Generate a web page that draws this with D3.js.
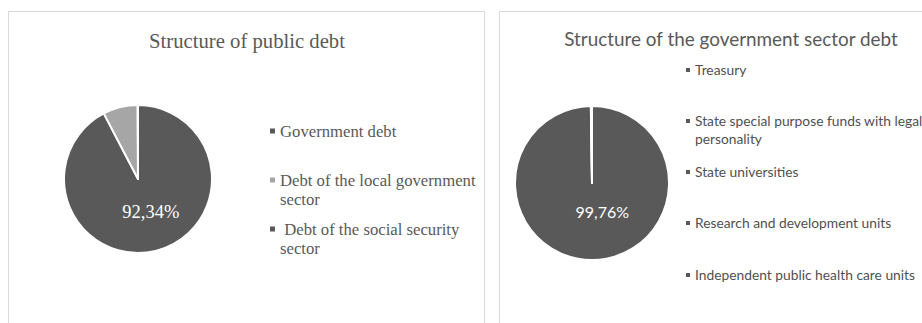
<!DOCTYPE html>
<html>
<head>
<meta charset="utf-8">
<script src="https://cdn.jsdelivr.net/npm/d3@7"></script>
<style>
  html, body { margin: 0; padding: 0; background: #fff; }
  svg { display: block; }
</style>
</head>
<body>
<svg id="chart" width="922" height="323"></svg>
<script>
// Structure of public debt (share of total, %)
const publicCategories = [
  "Government debt",
  "Debt of the local government sector",
  " Debt of the social security sector"
];
const publicValues = [92.34, 7.59, 0.07];
const publicLegendLines = [
  ["Government debt"],
  ["Debt of the local government", "sector"],
  [" Debt of the social security", "sector"]
];
const publicColors = ["#595959", "#a6a6a6", "#595959"];

// Structure of the government sector debt (share, %)
const govCategories = [
  "Treasury",
  "State special purpose funds with legal personality",
  "State universities",
  "Research and development units",
  "Independent public health care units"
];
const govValues = [99.76, 0.12, 0.05, 0.03, 0.04];
const govLegendLines = [
  ["Treasury"],
  ["State special purpose funds with legal", "personality"],
  ["State universities"],
  ["Research and development units"],
  ["Independent public health care units"]
];
const govColors = ["#595959", "#595959", "#595959", "#595959", "#595959"];

const svg = d3.select("#chart");

// Panel frames
svg.append("rect").attr("x", 8.5).attr("y", 11.5).attr("width", 476).attr("height", 330)
  .attr("fill", "#fff").attr("stroke", "#d9d9d9");
svg.append("rect").attr("x", 499.5).attr("y", 11.5).attr("width", 440).attr("height", 330)
  .attr("fill", "#fff").attr("stroke", "#d9d9d9");

function drawPie(opt) {
  const g = svg.append("g").attr("transform", `translate(${opt.cx},${opt.cy})`);
  const pie = d3.pie().sort(null).value(d => d)(opt.values);
  const arc = d3.arc().innerRadius(0).outerRadius(opt.r);
  g.selectAll("path").data(pie).join("path")
    .attr("d", arc)
    .attr("fill", (d, i) => opt.colors[i])
    .attr("stroke", "#fff")
    .attr("stroke-width", 2)
    .attr("stroke-linejoin", "round");

  // value label on the largest slice
  const labelArc = d3.arc().innerRadius(opt.labelR).outerRadius(opt.labelR);
  const c = labelArc.centroid(pie[0]);
  g.append("text")
    .attr("x", c[0] + opt.labelDx).attr("y", c[1])
    .attr("dy", "0.35em")
    .attr("text-anchor", "middle")
    .attr("fill", "#fff")
    .style("font-family", opt.font)
    .style("font-size", opt.labelSize + "px")
    .text(d3.format(".2f")(opt.values[0]).replace(".", ",") + "%");

  // title
  svg.append("text")
    .attr("x", opt.titleX).attr("y", opt.titleY)
    .attr("dy", "0.35em")
    .attr("text-anchor", "middle")
    .attr("fill", "#595959")
    .style("font-family", opt.font)
    .style("font-size", opt.titleSize + "px")
    .text(opt.title);

  // legend
  const lg = svg.append("g");
  opt.legendLines.forEach((lines, i) => {
    const y = opt.legendY[i];
    lg.append("rect")
      .attr("x", opt.legendX).attr("y", y - opt.markerSize / 2)
      .attr("width", opt.markerSize).attr("height", opt.markerSize)
      .attr("fill", opt.colors[i]);
    const t = lg.append("text")
      .attr("x", opt.legendX + opt.textGap).attr("y", y)
      .attr("fill", opt.legendColor)
      .style("font-family", opt.font)
      .style("font-size", opt.legendSize + "px")
      .style("white-space", "pre");
    lines.forEach((ln, j) => {
      t.append("tspan")
        .attr("x", opt.legendX + opt.textGap)
        .attr("y", y + j * opt.lineGap)
        .attr("dy", "0.35em")
        .text(ln);
    });
  });
}

drawPie({
  cx: 138, cy: 179, r: 74,
  values: publicValues, colors: publicColors,
  labelR: 33, labelDx: 5, labelSize: 18.5,
  font: "'Liberation Serif', 'DejaVu Serif', serif",
  title: "Structure of public debt", titleX: 247, titleY: 41, titleSize: 20.7,
  legendLines: publicLegendLines, legendX: 270, legendY: [131, 180, 229],
  markerSize: 5, textGap: 10, legendSize: 16.7, lineGap: 19, legendColor: "#595959"
});

drawPie({
  cx: 592, cy: 183, r: 77,
  values: govValues, colors: govColors,
  labelR: 29, labelDx: 10, labelSize: 16,
  font: "Lato, 'Open Sans', sans-serif",
  title: "Structure of the government sector debt", titleX: 731, titleY: 39, titleSize: 18.9,
  legendLines: govLegendLines, legendX: 686, legendY: [70, 121, 172, 223, 275],
  markerSize: 4, textGap: 9, legendSize: 13.8, lineGap: 18, legendColor: "#505050"
});
</script>
</body>
</html>
